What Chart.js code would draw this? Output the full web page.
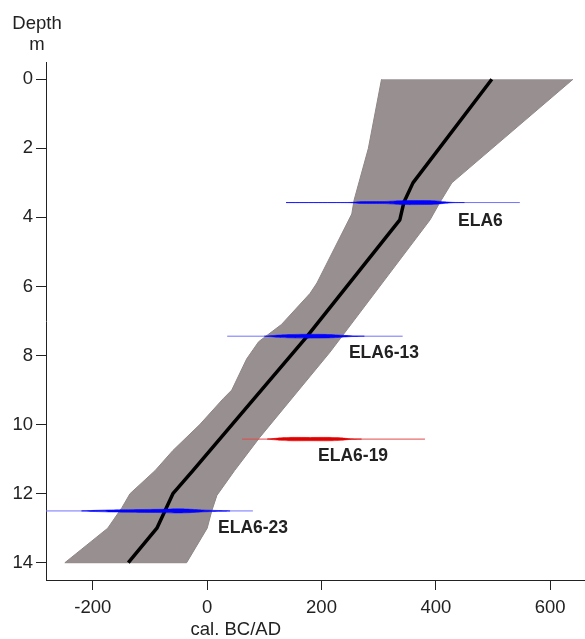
<!DOCTYPE html>
<html>
<head>
<meta charset="utf-8">
<script src="https://cdn.jsdelivr.net/npm/chart.js@4/dist/chart.umd.min.js"></script>
<style>
  html, body { margin: 0; padding: 0; background: #fff; }
  #wrap { width: 585px; height: 639px; }
</style>
</head>
<body>
<div id="wrap"><canvas id="chart" width="585" height="639"></canvas></div>
<script>
"use strict";

// age-depth model: grey envelope + median line (value = cal. BC/AD, depth = m)
const bandLeftDepth  = [0, 2.0, 3.5, 3.9, 5.9, 6.2, 7.1, 7.6, 8.1, 9.0, 9.25, 10.0, 10.75, 11.33, 12.0, 12.4, 13.0, 14.0];
const bandLeftAge    = [305, 282, 257, 253, 192, 180, 130, 90, 69, 43, 28, -13, -60, -91, -135, -149, -174, -249];
const bandRightDepth = [14.0, 13.0, 12.5, 12.05, 11.33, 10.37, 7.9, 4.07, 3.57, 3.0, 0];
const bandRightAge   = [-36, 0, 8, 17, 48, 92, 215, 390, 407, 428, 640];

const medianDepth = [0, 3.0, 3.57, 4.07, 7.46, 11.33, 12.0, 12.5, 13.0, 14.0];
const medianAge   = [498, 360, 344, 337, 174, -25, -60, -74, -88, -138];

// calibrated dates
const dateNames  = ["ELA6", "ELA6-13", "ELA6-19", "ELA6-23"];
const dateDepths = [3.57, 7.44, 10.42, 12.5];
const dateLo     = [138, 35, 61, -300];
const dateHi     = [547, 342, 381, 80];
const dateRejected = [false, false, true, false];
const probAges = [
  [138, 250, 270, 310, 330, 350, 380, 400, 415, 430, 450],
  [100, 125, 145, 175, 200, 220, 240, 255, 275],
  [105, 128, 150, 180, 210, 235, 250, 270],
  [-220, -195, -170, -140, -110, -80, -55, -35, -10, 20, 40],
];
const probDens = [
  [0, 0.05, 0.45, 0.5, 0.8, 1, 0.95, 0.8, 0.4, 0.08, 0],
  [0, 0.55, 0.8, 0.95, 0.9, 0.75, 0.4, 0.15, 0],
  [0, 0.6, 0.85, 0.8, 0.85, 0.6, 0.15, 0],
  [0, 0.3, 0.5, 0.6, 0.7, 0.8, 1, 0.9, 0.5, 0.2, 0],
];
// where each date label sits (value, depth), text starts there
const labelAge   = [439, 248, 194, 19];
const labelDepth = [4.12, 7.93, 10.92, 13.01];

const xTicks = [-200, 0, 200, 400, 600];
const yTicks = [0, 2, 4, 6, 8, 10, 12, 14];

const FONT = "'Liberation Sans', Arial, sans-serif";
const HALF = 0.06; // half thickness of a density of 1, in m

function pts(ages, depths) {
  return ages.map((a, i) => ({ x: a, y: depths[i] }));
}

function probShape(ages, dens, depth) {
  const top = ages.map((a, i) => ({ x: a, y: depth - dens[i] * HALF }));
  const bot = ages.map((a, i) => ({ x: a, y: depth + dens[i] * HALF })).reverse();
  return top.concat(bot);
}

const datasets = [];

datasets.push({
  label: "envelope",
  data: pts(bandLeftAge, bandLeftDepth).concat(pts(bandRightAge, bandRightDepth)),
  borderColor: "#8d8685", borderWidth: 1, backgroundColor: "#989090",
  fill: "shape", pointRadius: 0, tension: 0, order: 4,
});
datasets.push({
  label: "median",
  data: pts(medianAge, medianDepth),
  borderColor: "#000", borderWidth: 3.5, fill: false,
  pointRadius: 0, tension: 0, order: 3, borderJoinStyle: "round",
});

dateNames.forEach((name, i) => {
  const rej = dateRejected[i];
  datasets.push({
    label: name + " range",
    data: [{ x: dateLo[i], y: dateDepths[i] }, { x: dateHi[i], y: dateDepths[i] }],
    borderColor: rej ? "#e04848" : "#7373ff", borderWidth: 1, fill: false,
    pointRadius: 0, order: 2,
  });
  datasets.push({
    label: name,
    data: probShape(probAges[i], probDens[i], dateDepths[i]),
    borderColor: rej ? "#e00000" : "#0000ff", borderWidth: 0.5,
    backgroundColor: rej ? "#e00000" : "#0000ff",
    fill: "shape", pointRadius: 0, tension: 0.2, order: 1,
  });
});

const textPlugin = {
  id: "texts",
  afterDatasetsDraw(chart) {
    const { ctx, scales: { x, y } } = chart;
    ctx.save();
    ctx.fillStyle = "#222";
    ctx.textBaseline = "alphabetic";
    ctx.font = "18.5px " + FONT;
    ctx.textAlign = "center";
    ctx.fillText("Depth", 37, 29);
    ctx.fillText("m", 37, 50);
    ctx.fillText("cal. BC/AD", x.getPixelForValue(50), 635);

    ctx.font = "bold 17.5px " + FONT;
    ctx.textAlign = "left";
    ctx.textBaseline = "middle";
    dateNames.forEach((n, i) => {
      ctx.fillText(n, x.getPixelForValue(labelAge[i]), y.getPixelForValue(labelDepth[i]));
    });
    ctx.restore();
  },
};

new Chart(document.getElementById("chart"), {
  type: "line",
  data: { datasets },
  options: {
    responsive: false, animation: false,
    layout: { padding: { top: 62, left: 0, right: 0, bottom: 0 } },
    plugins: { legend: { display: false }, tooltip: { enabled: false } },
    scales: {
      x: {
        type: "linear", min: -282, max: 661,
        afterBuildTicks: (s) => { s.ticks = xTicks.map((v) => ({ value: v })); },
        afterFit: (s) => { s.height = 59; },
        ticks: { color: "#222", font: { family: FONT, size: 18.5 }, padding: 7, maxRotation: 0 },
        grid: { drawOnChartArea: false, drawTicks: true, tickLength: 10, tickColor: "#222", tickWidth: 1 },
        border: { display: true, color: "#222", width: 1 },
      },
      y: {
        type: "linear", reverse: true, min: -0.5, max: 14.5,
        afterBuildTicks: (s) => { s.ticks = yTicks.map((v) => ({ value: v })); },
        afterFit: (s) => { s.width = 46; },
        ticks: { color: "#222", font: { family: FONT, size: 18.5 }, padding: 3 },
        grid: { drawOnChartArea: false, drawTicks: true, tickLength: 10, tickColor: "#222", tickWidth: 1 },
        border: { display: true, color: "#222", width: 1 },
      },
    },
  },
  plugins: [textPlugin],
});
</script>
</body>
</html>
